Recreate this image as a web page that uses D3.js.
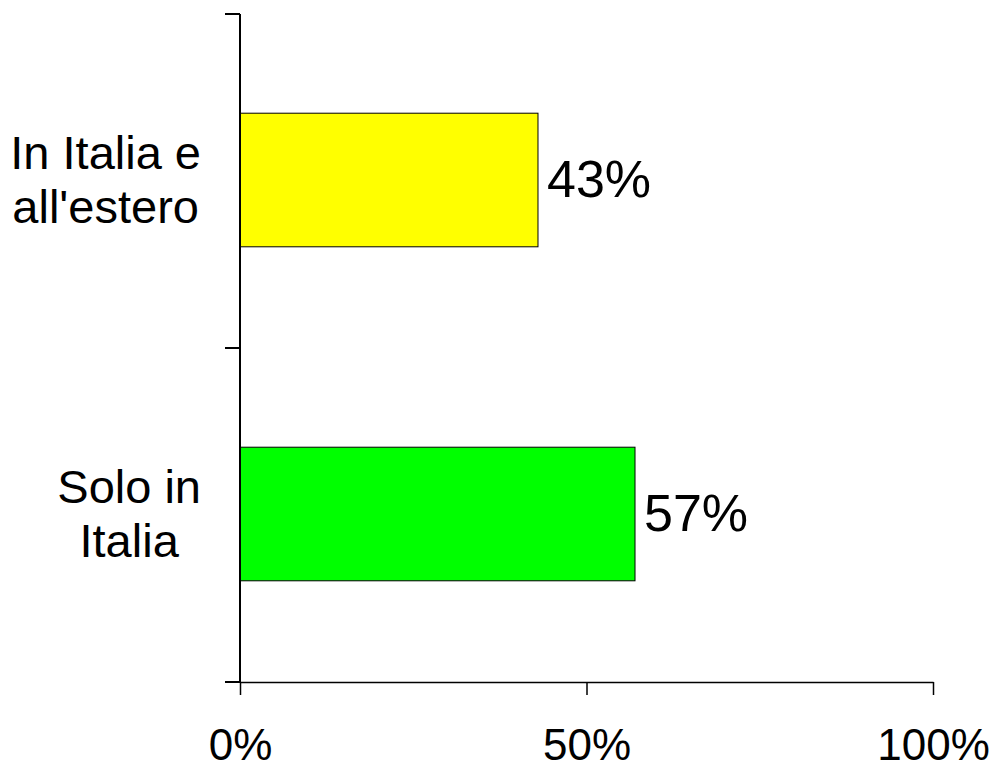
<!DOCTYPE html>
<html>
<head>
<meta charset="utf-8">
<script src="https://cdn.jsdelivr.net/npm/d3@7"></script>
<style>
  html, body { margin: 0; padding: 0; background: #fff; }
  svg { display: block; font-family: "Liberation Sans", Arial, sans-serif; }
</style>
</head>
<body>
<svg id="chart" width="997" height="766"></svg>
<script>
// Share of respondents by where they operate
const categories = [["In Italia e", "all'estero"], ["Solo in", "Italia"]];
const values = [43, 57];
const barColors = ["#FFFF00", "#00FF00"];
const tickValues = [0, 50, 100];

const svg = d3.select("#chart");
const plotLeft = 240, plotRight = 933, plotTop = 14, plotBottom = 682;

const x = d3.scaleLinear().domain([0, 100]).range([plotLeft, plotRight]);
const keys = categories.map(c => c.join(" "));
const y = d3.scaleBand().domain(keys).range([plotTop, plotBottom])
  .paddingInner(0.6).paddingOuter(0.3);

// Bars
svg.selectAll("rect.bar").data(values).join("rect")
  .attr("class", "bar")
  .attr("x", x(0))
  .attr("y", (d, i) => y(keys[i]) - 1)
  .attr("width", d => x(d) - x(0))
  .attr("height", y.bandwidth())
  .attr("fill", (d, i) => barColors[i])
  .attr("stroke", "#000")
  .attr("stroke-width", 1);

// Value labels
svg.selectAll("text.val").data(values).join("text")
  .attr("class", "val")
  .attr("x", d => x(d) + 9)
  .attr("y", (d, i) => y(keys[i]) + y.bandwidth() / 2 + 16)
  .attr("font-size", 52)
  .attr("fill", "#000")
  .text(d => d + "%");

// X axis
const xAxis = d3.axisBottom(x).tickValues(tickValues)
  .tickFormat(d => d + "%").tickSize(13).tickSizeOuter(0);
const gx = svg.append("g").attr("transform", `translate(0,${plotBottom})`).call(xAxis);
gx.select(".domain").attr("stroke", "#000").attr("stroke-width", 1.5);
gx.selectAll(".tick line").attr("stroke", "#000").attr("stroke-width", 1.5);
gx.selectAll(".tick text").attr("font-size", 44).attr("fill", "#000")
  .attr("font-family", "Liberation Sans, Arial, sans-serif")
  .attr("dy", null).attr("y", 78);

// Y axis line with ticks at category boundaries
svg.append("line").attr("x1", plotLeft).attr("x2", plotLeft)
  .attr("y1", plotTop).attr("y2", plotBottom)
  .attr("stroke", "#000").attr("stroke-width", 2);
const step = y.step();
const boundaries = d3.range(keys.length + 1).map(i => plotTop + i * step);
svg.selectAll("line.ytick").data(boundaries).join("line")
  .attr("class", "ytick")
  .attr("x1", plotLeft - 15).attr("x2", plotLeft)
  .attr("y1", d => d).attr("y2", d => d)
  .attr("stroke", "#000").attr("stroke-width", 2);

// Category labels: block right-aligned, lines centred within the block
const labelRight = 201, lineH = 54;
categories.forEach((lines, i) => {
  const cy = y(keys[i]) + y.bandwidth() / 2;
  const g = svg.append("g");
  const texts = lines.map((ln, j) => g.append("text")
    .attr("font-size", 47).attr("fill", "#000")
    .attr("text-anchor", "middle")
    .attr("y", cy + (j - (lines.length - 1) / 2) * lineH + 15)
    .text(ln));
  const w = d3.max(texts, t => t.node().getComputedTextLength());
  texts.forEach(t => t.attr("x", labelRight - w / 2));
});
</script>
</body>
</html>
